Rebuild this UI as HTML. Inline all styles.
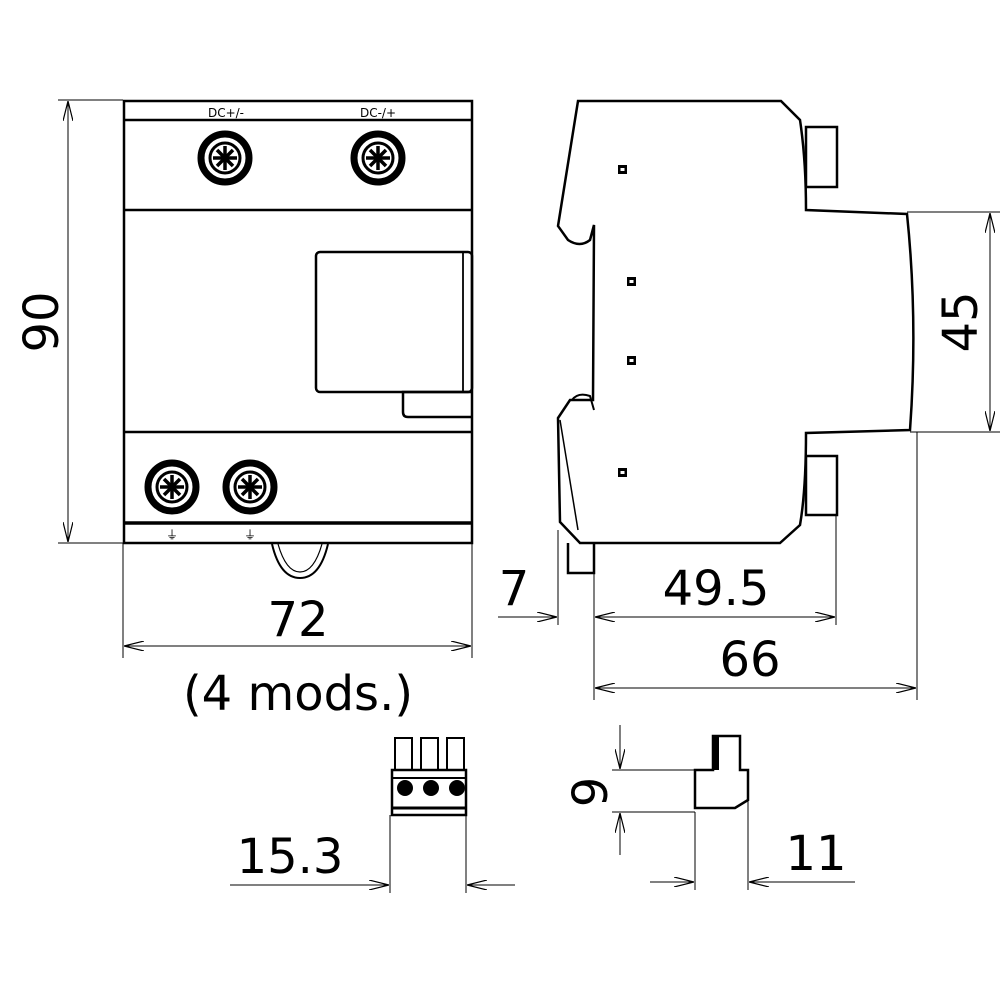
<!DOCTYPE html>
<html><head><style>body{margin:0;background:#fff}svg{display:block}</style></head><body>
<svg width="1000" height="1000" viewBox="0 0 1000 1000" xmlns="http://www.w3.org/2000/svg">
<defs>
<marker id="a" viewBox="0 0 20 10" refX="20" refY="5" markerWidth="20" markerHeight="10" markerUnits="userSpaceOnUse" orient="auto-start-reverse">
<polyline points="0,0 20,5 0,10" fill="none" stroke="#000" stroke-width="1.2"/></marker>
</defs>
<g fill="none" stroke="#000" stroke-width="1">
<line x1="58" y1="100" x2="123" y2="100"/><line x1="58" y1="543" x2="123" y2="543"/>
<line x1="68" y1="101" x2="68" y2="542" marker-start="url(#a)" marker-end="url(#a)"/>
<line x1="123" y1="543" x2="123" y2="658"/><line x1="472" y1="543" x2="472" y2="658"/>
<line x1="124" y1="646" x2="471" y2="646" marker-start="url(#a)" marker-end="url(#a)"/>
<line x1="907" y1="212" x2="1000" y2="212"/><line x1="910" y1="432" x2="1000" y2="432"/>
<line x1="990" y1="213" x2="990" y2="431" marker-start="url(#a)" marker-end="url(#a)"/>
<line x1="558" y1="530" x2="558" y2="625"/><line x1="594" y1="543" x2="594" y2="700"/>
<line x1="836" y1="515" x2="836" y2="625"/><line x1="917" y1="432" x2="917" y2="700"/>
<line x1="498" y1="617" x2="557" y2="617" marker-end="url(#a)"/>
<line x1="595" y1="617" x2="835" y2="617" marker-start="url(#a)" marker-end="url(#a)"/>
<line x1="595" y1="688" x2="916" y2="688" marker-start="url(#a)" marker-end="url(#a)"/>
<line x1="390" y1="815" x2="390" y2="893"/><line x1="466" y1="815" x2="466" y2="893"/>
<line x1="230" y1="885" x2="389" y2="885" marker-end="url(#a)"/>
<line x1="515" y1="885" x2="467" y2="885" marker-end="url(#a)"/>
<line x1="612" y1="770" x2="713" y2="770"/><line x1="612" y1="812" x2="695" y2="812"/>
<line x1="620" y1="725" x2="620" y2="769" marker-end="url(#a)"/>
<line x1="620" y1="855" x2="620" y2="813" marker-end="url(#a)"/>
<line x1="695" y1="812" x2="695" y2="890"/><line x1="748" y1="800" x2="748" y2="890"/>
<line x1="650" y1="882" x2="694" y2="882" marker-end="url(#a)"/>
<line x1="855" y1="882" x2="749" y2="882" marker-end="url(#a)"/>
</g>
<g fill="none" stroke="#000" stroke-width="2.5">
<rect x="124" y="101" width="348" height="442"/>
<line x1="124" y1="120" x2="472" y2="120"/>
<line x1="124" y1="210" x2="472" y2="210"/>
<line x1="124" y1="432" x2="472" y2="432"/>
<line x1="124" y1="523" x2="472" y2="523" stroke-width="3.5"/>
<rect x="316" y="252" width="156" height="140" rx="4"/>
<line x1="463" y1="253" x2="463" y2="391" stroke-width="1.8"/>
<path d="M472 392 H403 V412 Q403 417 408 417 H472"/>
<path d="M272 544 Q280 578 300 578 Q320 578 328 544" stroke-width="2"/>
<path d="M278 544 Q286 572 300 572 Q314 572 322 544" stroke-width="1.2"/>
<path d="M578 101 H781 L800 120 Q806 160 806 210 L907 214 Q918 320 910 430 L806 433 Q806 490 800 525 L780 543 H580 L560 522 L558 418 L570 400 L593 400 L594 225 L590 240 Q580 248 568 240 L558 226 Z"/>
<path d="M572 400 Q578 392 590 396 L594 410" stroke-width="2"/>
<rect x="806" y="127" width="31" height="60"/>
<rect x="806" y="456" width="31" height="59"/>
<path d="M568 543 V573 H594 V543"/>
<path d="M560 420 L578 530" stroke-width="1.5"/>
<rect x="392" y="770" width="74" height="45"/>
<line x1="392" y1="778" x2="466" y2="778" stroke-width="2"/>
<line x1="392" y1="808" x2="466" y2="808" stroke-width="3"/>
<rect x="395" y="738" width="17" height="32" stroke-width="2"/>
<rect x="421" y="738" width="17" height="32" stroke-width="2"/>
<rect x="447" y="738" width="17" height="32" stroke-width="2"/>
<path d="M695 770 H713 V736 H740 V770 H748 V800 L735 808 H695 Z"/>
</g>
<g fill="#000">
<circle cx="405" cy="788" r="8"/><circle cx="431" cy="788" r="8"/><circle cx="457" cy="788" r="8"/>
<rect x="713" y="736" width="6" height="34"/>
<rect x="618" y="165" width="9" height="9"/><rect x="627" y="277" width="9" height="9"/>
<rect x="627" y="356" width="9" height="9"/><rect x="618" y="468" width="9" height="9"/>
</g>
<g fill="#fff"><rect x="620.5" y="168" width="4" height="3"/><rect x="629.5" y="280" width="4" height="3"/><rect x="629.5" y="359" width="4" height="3"/><rect x="620.5" y="471" width="4" height="3"/></g>
<g id="t">
<circle cx="225" cy="158" r="24" fill="none" stroke="#000" stroke-width="7"/>
<circle cx="225" cy="158" r="15" fill="none" stroke="#000" stroke-width="3"/>
<g stroke="#000" stroke-width="3.5"><line x1="225" y1="146" x2="225" y2="170"/><line x1="213" y1="158" x2="237" y2="158"/><line x1="217" y1="150" x2="233" y2="166"/><line x1="233" y1="150" x2="217" y2="166"/></g>
</g>
<use href="#t" x="153"/>
<use href="#t" x="-53" y="329"/>
<use href="#t" x="25" y="329"/>
<g font-family="DejaVu Sans, sans-serif" fill="#000">
<text x="226" y="117" font-size="12" text-anchor="middle">DC+/-</text>
<text x="378" y="117" font-size="12" text-anchor="middle">DC-/+</text>
<text x="172" y="539" font-size="12" text-anchor="middle">⏚</text>
<text x="250" y="539" font-size="12" text-anchor="middle">⏚</text>
<text x="298" y="636" font-size="48" text-anchor="middle">72</text>
<text x="298" y="710" font-size="48" text-anchor="middle">(4 mods.)</text>
<text transform="translate(58,322) rotate(-90)" font-size="48" text-anchor="middle">90</text>
<text transform="translate(977,322) rotate(-90)" font-size="48" text-anchor="middle">45</text>
<text x="514" y="605" font-size="48" text-anchor="middle">7</text>
<text x="716" y="605" font-size="48" text-anchor="middle">49.5</text>
<text x="750" y="676" font-size="48" text-anchor="middle">66</text>
<text x="290" y="873" font-size="48" text-anchor="middle">15.3</text>
<text transform="translate(607,792) rotate(-90)" font-size="48" text-anchor="middle">9</text>
<text x="816" y="870" font-size="48" text-anchor="middle">11</text>
</g>
</svg>
</body></html>
